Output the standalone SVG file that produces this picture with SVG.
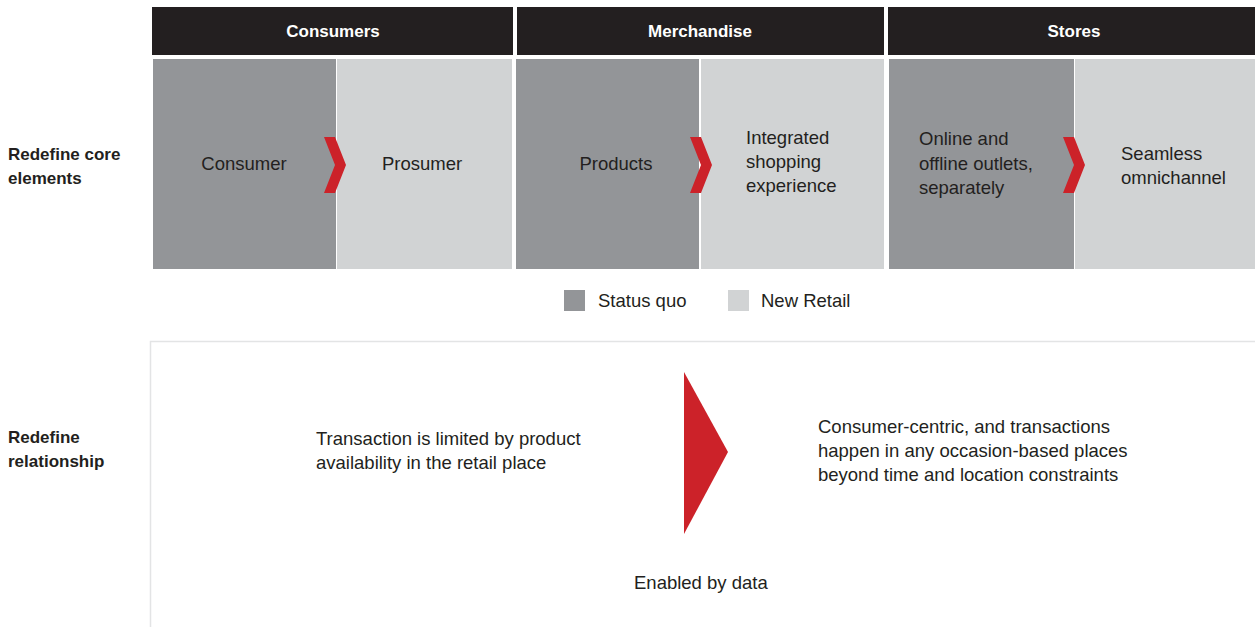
<svg xmlns="http://www.w3.org/2000/svg" width="1255" height="627" viewBox="0 0 1255 627">
  <style>
    .hdr { fill: #231f20; }
    .hdr-t { font-family: "Liberation Sans", Arial, sans-serif; font-size: 17px; font-weight: bold; fill: #ffffff; text-anchor: middle; }
    .old { fill: #939598; }
    .new { fill: #d1d3d4; }
    .chev { fill: #cc2229; }
    .t { font-family: "Liberation Sans", Arial, sans-serif; font-size: 18.5px; fill: #231f20; }
    .side { font-family: "Liberation Sans", Arial, sans-serif; font-size: 17px; font-weight: bold; fill: #231f20; }
  </style>
  <defs>
    <!-- chevron pointing right, origin at its left-top corner -->
    <polygon id="chevron" points="0,0 11,0 22,28 11,56 0,56 11,28"/>
  </defs>
  <rect width="1255" height="627" fill="#ffffff"/>

  <!-- row labels -->
  <g id="label-core">
    <text class="side" x="8" y="160">Redefine core</text>
    <text class="side" x="8" y="184">elements</text>
  </g>
  <g id="label-relationship">
    <text class="side" x="8" y="443">Redefine</text>
    <text class="side" x="8" y="467">relationship</text>
  </g>

  <!-- column headers -->
  <g id="header-consumers">
    <rect class="hdr" x="152" y="7" width="361" height="48"/>
    <text class="hdr-t" x="333" y="37">Consumers</text>
  </g>
  <g id="header-merchandise">
    <rect class="hdr" x="517" y="7" width="367" height="48"/>
    <text class="hdr-t" x="700" y="37">Merchandise</text>
  </g>
  <g id="header-stores">
    <rect class="hdr" x="888" y="7" width="367" height="48"/>
    <text class="hdr-t" x="1074" y="37">Stores</text>
  </g>

  <!-- status quo / new retail panels -->
  <g id="consumer">
    <rect class="old" x="153" y="59" width="183" height="210"/>
    <text class="t" x="244" y="170" text-anchor="middle">Consumer</text>
  </g>
  <g id="prosumer">
    <rect class="new" x="337" y="59" width="175" height="210"/>
    <text class="t" x="382" y="170">Prosumer</text>
  </g>
  <g id="products">
    <rect class="old" x="516" y="59" width="183" height="210"/>
    <text class="t" x="616" y="170" text-anchor="middle">Products</text>
  </g>
  <g id="integrated-shopping">
    <rect class="new" x="701" y="59" width="183" height="210"/>
    <text class="t" x="746" y="144">Integrated</text>
    <text class="t" x="746" y="168">shopping</text>
    <text class="t" x="746" y="192">experience</text>
  </g>
  <g id="outlets">
    <rect class="old" x="889" y="59" width="185" height="210"/>
    <text class="t" x="919" y="145">Online and</text>
    <text class="t" x="919" y="170">offline outlets,</text>
    <text class="t" x="919" y="194">separately</text>
  </g>
  <g id="omnichannel">
    <rect class="new" x="1075" y="59" width="180" height="210"/>
    <text class="t" x="1121" y="160">Seamless</text>
    <text class="t" x="1121" y="184">omnichannel</text>
  </g>

  <!-- legend -->
  <g id="legend">
    <rect class="old" x="564" y="290" width="21" height="21"/>
    <text class="t" x="598" y="307">Status quo</text>
    <rect class="new" x="728" y="290" width="21" height="21"/>
    <text class="t" x="761" y="307">New Retail</text>
  </g>

  <!-- relationship panel -->
  <g id="relationship-panel">
    <path d="M150.5,627 V341.5 H1255" fill="none" stroke="#e3e4e5" stroke-width="1.5"/>
  </g>
  <g id="transaction-limited">
    <text class="t" x="316" y="445">Transaction is limited by product</text>
    <text class="t" x="316" y="469">availability in the retail place</text>
  </g>
  <g id="consumer-centric">
    <text class="t" x="818" y="433">Consumer-centric, and transactions</text>
    <text class="t" x="818" y="457">happen in any occasion-based places</text>
    <text class="t" x="818" y="481">beyond time and location constraints</text>
  </g>
  <g id="enabled-by-data">
    <text class="t" x="634" y="589">Enabled by data</text>
  </g>

  <!-- transition arrows -->
  <g id="connectors">
    <use href="#chevron" class="chev" x="324" y="137"/>
    <use href="#chevron" class="chev" x="690" y="137"/>
    <use href="#chevron" class="chev" x="1063" y="137"/>
    <polygon class="chev" points="684,372 728,452 684,534"/>
  </g>
</svg>
